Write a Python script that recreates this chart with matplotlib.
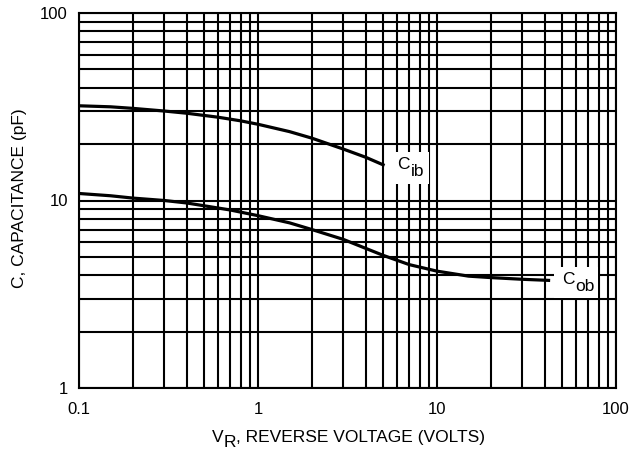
import matplotlib
matplotlib.use("Agg")
import matplotlib.pyplot as plt
from matplotlib.patches import Rectangle
from matplotlib.transforms import Bbox, IdentityTransform
from matplotlib.ticker import FixedLocator, FixedFormatter, NullFormatter, LogLocator

plt.rcParams['font.family'] = ['Liberation Sans', 'DejaVu Sans']

# Data
vr_cib = [0.1, 0.15, 0.2, 0.3, 0.4, 0.6, 0.8, 1.0, 1.5, 2.0, 3.0, 4.0, 5.0]
c_ib = [32, 31.6, 31, 30, 29.2, 27.8, 26.6, 25.5, 23.3, 21.5, 18.8, 17.0, 15.5]

vr_cob = [0.1, 0.15, 0.2, 0.3, 0.4, 0.7, 1.0, 1.5, 2.0, 3.0, 5.0, 7.0, 10, 15, 20, 30, 42]
c_ob = [10.9, 10.6, 10.3, 10.0, 9.7, 8.9, 8.3, 7.6, 7.0, 6.2, 5.1, 4.55, 4.2, 3.95, 3.88, 3.8, 3.75]

x_ticks = [0.1, 1, 10, 100]
x_tick_labels = ['0.1', '1', '10', '100']
y_ticks = [1, 10, 100]
y_tick_labels = ['1', '10', '100']

W, H = 639, 450
FS = 12.5

fig = plt.figure(figsize=(W / 100, H / 100), dpi=100)
ax = fig.add_axes([79 / W, 1 - 388 / H, (616 - 79) / W, (388 - 13) / H])
ax.set_xscale('log')
ax.set_yscale('log')
ax.set_xlim(0.1, 100)
ax.set_ylim(1, 100)

ax.xaxis.set_major_locator(FixedLocator(x_ticks))
ax.xaxis.set_major_formatter(FixedFormatter(x_tick_labels))
ax.yaxis.set_major_locator(FixedLocator(y_ticks))
ax.yaxis.set_major_formatter(FixedFormatter(y_tick_labels))
ax.xaxis.set_minor_locator(LogLocator(base=10, subs=range(2, 10), numticks=20))
ax.yaxis.set_minor_locator(LogLocator(base=10, subs=range(2, 10), numticks=20))
ax.xaxis.set_minor_formatter(NullFormatter())
ax.yaxis.set_minor_formatter(NullFormatter())

ax.grid(which='both', color='black', linewidth=1.5)
ax.set_axisbelow(True)
for s in ax.spines.values():
    s.set_linewidth(1.5)
    s.set_color('black')
ax.tick_params(which='both', length=0, labelsize=12, colors='black')
ax.tick_params(axis='y', pad=8)
ax.tick_params(axis='x', pad=10)

ax.plot(vr_cib, c_ib, color='black', lw=2.3, zorder=3)
ax.plot(vr_cob, c_ob, color='black', lw=2.3, zorder=3)

renderer = fig.canvas.get_renderer()


def sub_label(x, y, main, sub, pad):
    t1 = ax.text(x, y, main, fontsize=FS, ha='left', va='baseline', zorder=5)
    w1 = t1.get_window_extent(renderer).width
    t2 = ax.annotate(sub, xy=(x, y), xytext=(w1 + 1, -7), textcoords='offset pixels',
                     fontsize=FS, ha='left', va='baseline', zorder=5)
    bb = Bbox.union([t1.get_window_extent(renderer), t2.get_window_extent(renderer)])
    x0, y0, x1, y1 = bb.x0 - pad[0], bb.y0 - pad[1], bb.x1 + pad[2], bb.y1 + pad[3]
    rect = Rectangle((x0, y0), x1 - x0, y1 - y0, transform=IdentityTransform(),
                     fc='white', ec='none', zorder=4, clip_on=False)
    ax.add_artist(rect)


# padding: left, bottom, right, top (pixels)
sub_label(6.0, 14.8, 'C', 'ib', (8, 5, 5, 5))
sub_label(50, 3.6, 'C', 'ob', (8, 4, 3, 5))

fig.text(20 / W, 1 - 198.5 / H, 'C, CAPACITANCE (pF)', rotation=90, fontsize=FS,
         ha='center', va='center')

# x label with a full-size, lowered subscript
parts = [('V', 0), ('R', 5), (', REVERSE VOLTAGE (VOLTS)', 0)]
texts = []
widths = []
for s, dy in parts:
    t = fig.text(0, 0, s, fontsize=FS, ha='left', va='baseline')
    texts.append((t, dy))
    widths.append(t.get_window_extent(renderer).width)
x0 = 348.5 - sum(widths) / 2
for (t, dy), w in zip(texts, widths):
    t.set_position((x0 / W, 1 - (442 + dy) / H))
    x0 += w

fig.savefig('out.png', dpi=100)
